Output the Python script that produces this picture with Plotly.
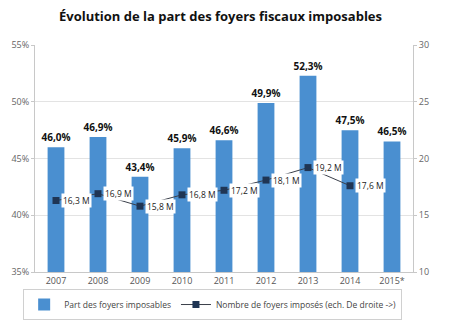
import plotly.graph_objects as go

years = ["2007", "2008", "2009", "2010", "2011", "2012", "2013", "2014", "2015*"]
part = [46.0, 46.9, 43.4, 45.9, 46.6, 49.9, 52.3, 47.5, 46.5]
nombre = [16.3, 16.9, 15.8, 16.8, 17.2, 18.1, 19.2, 17.6]

def fr(v, d=1):
    return f"{v:.{d}f}".replace(".", ",")

xi = list(range(len(years)))
xn = xi[:len(nombre)]

fig = go.Figure()
fig.add_trace(go.Bar(
    x=xi, y=part, name="Part des foyers imposables",
    marker=dict(color="#4a8fd0", line=dict(width=0)),
    text=["<b>" + fr(v) + "%</b>" for v in part], textposition="outside",
    constraintext="none",
    textfont=dict(family="Open Sans", size=10, color="#111111"),
    cliponaxis=False,
))
fig.add_trace(go.Scatter(
    x=xn, y=nombre, yaxis="y2", mode="lines+markers",
    name="Nombre de foyers imposés (ech. De droite ->)",
    line=dict(color="#3a3f4a", width=1),
    marker=dict(symbol="square", size=7, color="#1f3554"),
))
for xv, yv in zip(xn, nombre):
    fig.add_annotation(x=xv, y=yv, xref="x", yref="y2", text=fr(yv) + " M",
                       showarrow=False, xanchor="left", xshift=5,
                       bgcolor="white", borderpad=1,
                       font=dict(family="Open Sans", size=8.5, color="#1a1a1a"))

fig.update_layout(
    width=450, height=325,
    margin=dict(l=35, r=37, t=45, b=53, autoexpand=False),
    paper_bgcolor="white", plot_bgcolor="white",
    title=dict(text="<b>Évolution de la part des foyers fiscaux imposables</b>",
               x=0.49, xanchor="center", y=0.95, yanchor="middle",
               font=dict(family="Open Sans", size=13, color="#111111")),
    bargap=0.6,
    showlegend=True,
    legend=dict(orientation="h", x=0.47, xanchor="center", y=-0.075, yanchor="top",
                bordercolor="#d0d0d0", borderwidth=1,
                font=dict(family="Open Sans", size=8.5, color="#444444"),
                itemwidth=30, tracegroupgap=0),
    xaxis=dict(range=[-0.5, 8.5], tickvals=xi, ticktext=years,
               showline=True, linecolor="#c8c8c8", ticks="", showgrid=False, zeroline=False,
               tickfont=dict(family="Open Sans", size=9, color="#555555")),
    yaxis=dict(range=[35, 55], dtick=5, ticksuffix="%", showgrid=True,
               gridcolor="#e3e3e3", showline=True, linecolor="#c8c8c8",
               ticks="outside", ticklen=3, tickcolor="#c8c8c8",
               tickfont=dict(family="Open Sans", size=9, color="#666666"), zeroline=False),
    yaxis2=dict(range=[10, 30], dtick=5, overlaying="y", side="right", showgrid=False,
                showline=True, linecolor="#c8c8c8", ticks="outside", ticklen=3,
                tickcolor="#c8c8c8",
                tickfont=dict(family="Open Sans", size=9, color="#666666"), zeroline=False),
)

fig.write_html("out.html")
